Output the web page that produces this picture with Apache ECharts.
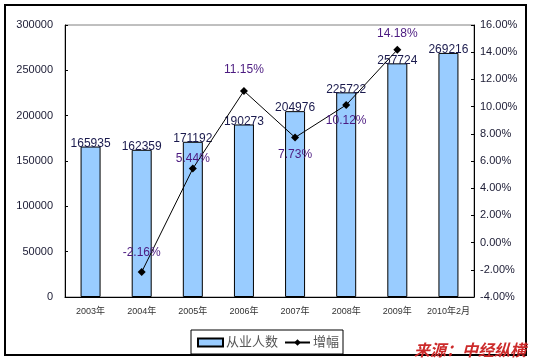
<!DOCTYPE html>
<html><head><meta charset="utf-8">
<script src="https://cdn.jsdelivr.net/npm/echarts@6/dist/echarts.min.js"></script>
<style>html,body{margin:0;padding:0;background:#fff}#c{width:537px;height:363px}</style>
</head><body><div id="c"></div>
<script>
const categories = ['2003年','2004年','2005年','2006年','2007年','2008年','2009年','2010年2月'];
const employees = [165935, 162359, 171192, 190273, 204976, 225722, 257724, 269216];
const growth = [null, -2.16, 5.44, 11.15, 7.73, 10.12, 14.18, null];
const leftTicks = {min: 0, max: 300000, interval: 50000};
const rightTicks = {min: -4, max: 16, interval: 2};

// label placement for growth labels (style only)
const growthLabelSide = [null, ['top', 9], ['top', 0], ['top', 11], ['bottom', 7], ['bottom', 6], ['top', 6], null];

const chart = echarts.init(document.getElementById('c'), null, {renderer: 'canvas'});
const txtFont = 'Arial, "Liberation Sans", "Noto Sans CJK SC", sans-serif';

const growthData = growth.map((v, i) => {
  if (v === null) return null;
  const s = growthLabelSide[i];
  return {value: v, label: {position: s[0], distance: s[1]}};
});

chart.setOption({
  animation: false,
  backgroundColor: '#fff',
  grid: {left: 65, right: 63, top: 25, bottom: 66, show: true, borderColor: '#808080', borderWidth: 1},
  legend: {
    left: 191, top: 330, width: 150, height: 21,
    padding: [6, 4, 5, 6], itemGap: 6,
    borderColor: '#000', borderWidth: 1,
    itemWidth: 25, itemHeight: 8,
    textStyle: {fontSize: 13, color: '#555', fontFamily: txtFont, padding: [0, 0, 0, -2]},
    data: [{name: '从业人数', icon: 'rect'}, {name: '增幅'}]
  },
  xAxis: {
    type: 'category', data: categories, boundaryGap: true,
    axisLine: {lineStyle: {color: '#000', width: 1}},
    axisTick: {inside: true, length: 3, lineStyle: {color: '#000'}},
    axisLabel: {fontSize: 9, color: '#333', margin: 10, fontFamily: txtFont, interval: 0}
  },
  yAxis: [{
    type: 'value', min: leftTicks.min, max: leftTicks.max, interval: leftTicks.interval,
    axisLine: {show: true, lineStyle: {color: '#000'}},
    axisTick: {show: true, inside: true, length: 3, lineStyle: {color: '#000'}},
    splitLine: {show: false},
    axisLabel: {fontSize: 11, color: '#1a1a33', margin: 12, fontFamily: txtFont, formatter: v => String(v)}
  }, {
    type: 'value', min: rightTicks.min, max: rightTicks.max, interval: rightTicks.interval,
    position: 'right',
    axisLine: {show: true, lineStyle: {color: '#000'}},
    axisTick: {show: true, inside: true, length: 3, lineStyle: {color: '#000'}},
    splitLine: {show: false},
    axisLabel: {fontSize: 11, color: '#1a1a33', margin: 6, fontFamily: txtFont,
      formatter: v => v.toFixed(2) + '%'}
  }],
  series: [{
    name: '从业人数', type: 'bar', data: employees, barWidth: 20, yAxisIndex: 0,
    itemStyle: {color: '#99ccff', borderColor: '#000', borderWidth: 1},
    label: {show: true, position: 'top', distance: -3, fontSize: 12, color: '#1a1a4d', fontFamily: txtFont},
    z: 2
  }, {
    name: '增幅', type: 'line', data: growthData, yAxisIndex: 1, connectNulls: false,
    symbol: 'diamond', symbolSize: 8,
    lineStyle: {color: '#000', width: 1},
    itemStyle: {color: '#000'},
    label: {show: true, fontSize: 12, color: '#4b1a80', fontFamily: txtFont, formatter: p => p.value.toFixed(2) + '%'},
    z: 3
  }],
  graphic: [{
    type: 'rect', shape: {x: 5, y: 5, width: 521, height: 350},
    style: {fill: 'none', stroke: '#000', lineWidth: 2}, z: 100, silent: true
  }, {
    type: 'text', left: 414, top: 342,
    style: {text: '来源：中经纵横', fill: '#cc2a2a', font: 'italic bold 16px "Noto Sans CJK SC", sans-serif'},
    z: 101
  }]
});
</script></body></html>
